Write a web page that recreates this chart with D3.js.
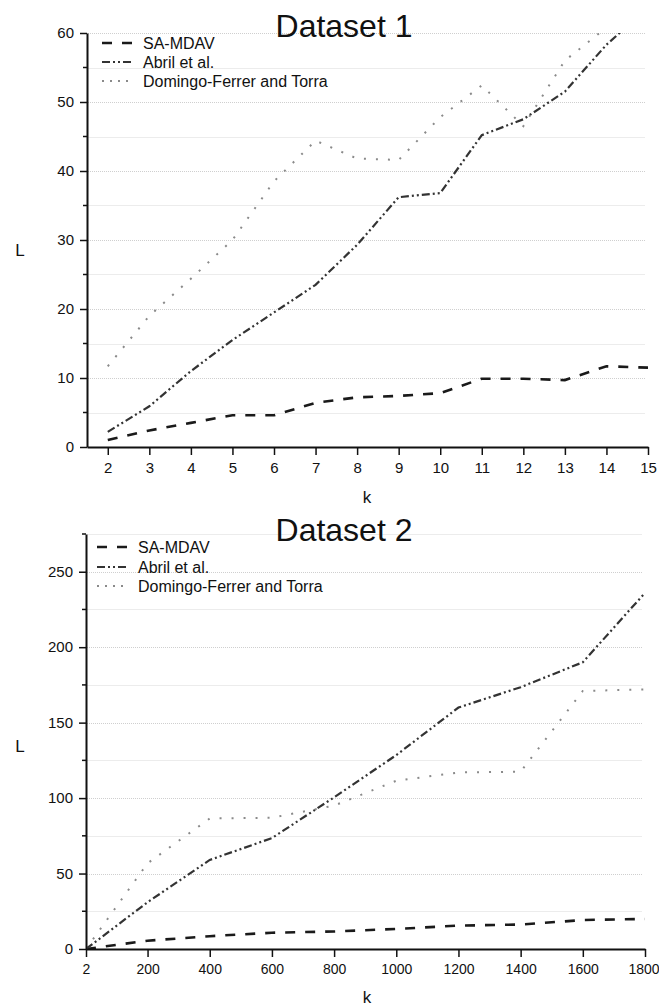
<!DOCTYPE html>
<html>
<head>
<meta charset="utf-8">
<script src="https://cdn.jsdelivr.net/npm/d3@7"></script>
<style>
  body { margin: 0; background: #fff; }
  text { font-family: "Liberation Sans", Arial, sans-serif; fill: #111; }
</style>
</head>
<body>
<div id="chart"></div>
<script>
// Dataset 1 values
var k1 = [2, 3, 4, 5, 6, 7, 8, 9, 10, 11, 12, 13, 14, 15];
var sa1 = [1.0, 2.4, 3.5, 4.6, 4.6, 6.4, 7.2, 7.4, 7.8, 9.9, 9.9, 9.7, 11.7, 11.5];
var abril1 = [2.2, 5.9, 11.0, 15.5, 19.5, 23.5, 29.3, 36.2, 36.8, 45.2, 47.5, 51.5, 58.3, 63.7];
var domingo1 = [11.7, 19.0, 24.4, 30.0, 38.5, 44.4, 41.8, 41.6, 47.8, 52.4, 46.5, 56.0, 60.8, 62.0];
var yTicks1 = [0, 10, 20, 30, 40, 50, 60];

// Dataset 2 values
var k2 = [2, 200, 400, 600, 800, 1000, 1200, 1400, 1600, 1800];
var sa2 = [0, 5.5, 8.5, 10.8, 11.6, 13.3, 15.5, 16.2, 19.2, 19.9];
var abril2 = [0, 31, 59, 73.5, 100.5, 128.5, 160, 173.5, 190, 236];
var domingo2 = [0, 56.8, 86.5, 87, 95, 111.5, 117, 117.5, 171, 172];
var yTicks2 = [0, 50, 100, 150, 200, 250];

var seriesNames = ["SA-MDAV", "Abril et al.", "Domingo-Ferrer and Torra"];

var styles = [
    { color: "#1a1a1a", width: 2.6, dash: "10,10" },
    { color: "#333", width: 2.2, dash: "8,3,2,3,2,3" },
    { color: "#8a8a8a", width: 2, dash: "2,10" }
];

var svgWidth = 659;
var svgHeight = 1008;

var svg = d3.select("#chart")
    .append("svg")
    .attr("width", svgWidth)
    .attr("height", svgHeight);

function drawChart(opt) {
    var g = svg.append("g");

    var xScale = d3.scaleLinear().domain(opt.xDomain).range(opt.xRange);
    var yScale = d3.scaleLinear().domain(opt.yDomain).range(opt.yRange);

    var left = opt.xRange[0], right = opt.xRange[1];
    var bottom = opt.yRange[0], top = opt.yRange[1];

    // gridlines (minor solid, major dotted)
    var minor = d3.range(opt.yDomain[0] + opt.minorStep, opt.yDomain[1] + 0.001, opt.minorStep);
    g.selectAll(".grid")
        .data(minor)
        .enter()
        .append("line")
        .attr("x1", left + 1)
        .attr("x2", right - 3)
        .attr("y1", d => Math.round(yScale(d)) + 0.5)
        .attr("y2", d => Math.round(yScale(d)) + 0.5)
        .attr("stroke", d => opt.yTicks.indexOf(d) >= 0 ? "#cfcfcf" : "#ececec")
        .attr("stroke-dasharray", d => opt.yTicks.indexOf(d) >= 0 ? "1,1" : null)
        .attr("stroke-width", 1);

    // clip lines to plot
    var clipId = "clip" + opt.id;
    svg.append("clipPath")
        .attr("id", clipId)
        .append("rect")
        .attr("x", left)
        .attr("y", top)
        .attr("width", right - left)
        .attr("height", bottom - top);

    var line = d3.line()
        .x(d => xScale(d[0]))
        .y(d => yScale(d[1]));

    var linesGroup = g.append("g").attr("clip-path", "url(#" + clipId + ")");
    opt.series.forEach(function(vals, i) {
        var pts = opt.ks.map((k, j) => [k, vals[j]]);
        linesGroup.append("path")
            .attr("d", line(pts))
            .attr("fill", "none")
            .attr("stroke", styles[i].color)
            .attr("stroke-width", styles[i].width)
            .attr("stroke-dasharray", styles[i].dash);
    });

    // y axis
    var leftAxis = d3.axisLeft(yScale)
        .tickValues(opt.yTicks)
        .tickSize(7)
        .tickPadding(6)
        .tickSizeOuter(0);
    var yAxis = g.append("g")
        .attr("transform", `translate(${left}, 0)`)
        .call(leftAxis);
    yAxis.selectAll("text").style("font-size", "15px").style("font-family", "Liberation Sans, Arial, sans-serif");

    // minor y ticks
    var minorOnly = minor.filter(d => opt.yTicks.indexOf(d) < 0);
    g.selectAll(".minor")
        .data(minorOnly)
        .enter()
        .append("line")
        .attr("x1", left - 4)
        .attr("x2", left)
        .attr("y1", d => yScale(d))
        .attr("y2", d => yScale(d))
        .attr("stroke", "#111")
        .attr("stroke-width", 1.5);

    // x axis
    var bottomAxis = d3.axisBottom(xScale)
        .tickValues(opt.xTicks)
        .tickFormat(d3.format("d"))
        .tickSize(8)
        .tickPadding(7)
        .tickSizeOuter(0);
    var xAxis = g.append("g")
        .attr("transform", `translate(0, ${bottom})`)
        .call(bottomAxis);
    xAxis.selectAll("text")
        .style("font-size", opt.xFont)
        .style("font-family", "Liberation Sans, Arial, sans-serif");
    // keep the last label inside the page
    xAxis.selectAll(".tick:last-of-type text").attr("dx", opt.lastDx);

    [xAxis, yAxis].forEach(function(a) {
        a.select(".domain").attr("stroke", "#111").attr("stroke-width", 2);
        a.selectAll(".tick line").attr("stroke", "#111").attr("stroke-width", 1.5);
        a.selectAll("text").attr("fill", "#111");
    });

    // title and axis labels
    g.append("text")
        .attr("x", opt.titleX)
        .attr("y", opt.titleY)
        .attr("text-anchor", "middle")
        .style("font-size", "32px")
        .text(opt.title);

    g.append("text")
        .attr("x", 367)
        .attr("y", opt.kY)
        .attr("text-anchor", "middle")
        .style("font-size", "17px")
        .text("k");

    g.append("text")
        .attr("x", 20)
        .attr("y", opt.lY)
        .attr("text-anchor", "middle")
        .style("font-size", "17px")
        .text("L");

    // legend
    seriesNames.forEach(function(name, i) {
        var ly = opt.legendY[i];
        g.append("line")
            .attr("x1", opt.legendX)
            .attr("x2", opt.legendX + 32)
            .attr("y1", ly)
            .attr("y2", ly)
            .attr("stroke", styles[i].color)
            .attr("stroke-width", styles[i].width)
            .attr("stroke-dasharray", i == 2 ? "2,6" : styles[i].dash);
        g.append("text")
            .attr("x", opt.legendX + 41)
            .attr("y", ly + 5.5)
            .style("font-size", "16px")
            .text(name);
    });
}

drawChart({
    id: 1,
    ks: k1,
    series: [sa1, abril1, domingo1],
    xDomain: [1.5, 15],
    xRange: [87, 648],
    yDomain: [0, 60],
    yRange: [447, 33],
    xTicks: k1,
    yTicks: yTicks1,
    minorStep: 5,
    xFont: "15px",
    lastDx: "0",
    title: "Dataset 1",
    titleX: 344,
    titleY: 37,
    kY: 503,
    lY: 256,
    legendX: 102,
    legendY: [43, 62, 81]
});

drawChart({
    id: 2,
    ks: k2,
    series: [sa2, abril2, domingo2],
    xDomain: [2, 1800],
    xRange: [86, 645],
    yDomain: [0, 275],
    yRange: [949, 534],
    xTicks: k2,
    yTicks: yTicks2,
    minorStep: 25,
    xFont: "14px",
    lastDx: "-1.5",
    title: "Dataset 2",
    titleX: 344,
    titleY: 541,
    kY: 1003,
    lY: 752,
    legendX: 97,
    legendY: [547, 567, 586]
});
</script>
</body>
</html>
